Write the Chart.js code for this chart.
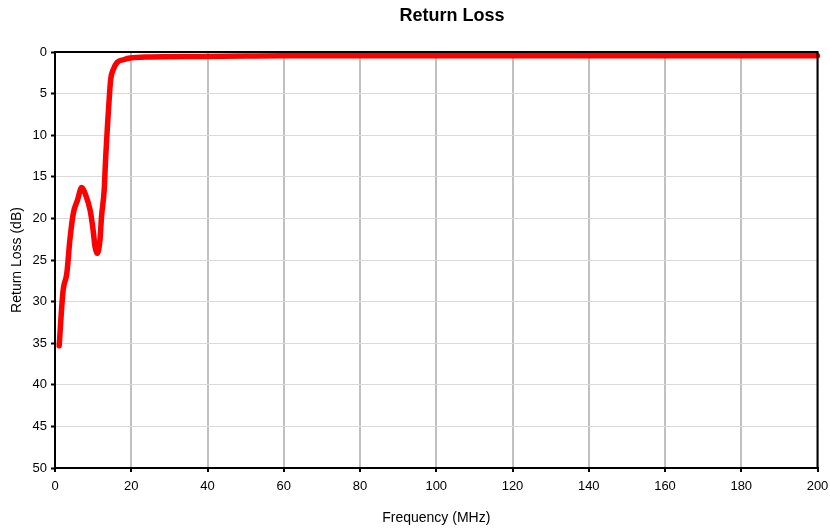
<!DOCTYPE html>
<html>
<head>
<meta charset="utf-8">
<script src="https://cdn.jsdelivr.net/npm/chart.js@4/dist/chart.umd.min.js"></script>
<style>
  html, body { margin: 0; padding: 0; background: #fff; }
  #wrap { width: 830px; height: 529px; }
</style>
</head>
<body>
<div id="wrap"><canvas id="c" width="830" height="529"></canvas></div>
<script>
const chartTitle = "Return Loss";
const xAxisTitle = "Frequency (MHz)";
const yAxisTitle = "Return Loss (dB)";
const frequencyMHz = [1.1, 1.9, 2.2, 3.1, 3.9, 4.8, 5.9, 7.0, 7.9, 9.2, 10.0, 10.5, 11.1, 11.8, 12.2, 12.9, 13.3, 13.8, 14.2, 14.6, 15.3, 16.3, 17.9, 19.7, 25, 38, 50, 60, 80, 100, 120, 140, 160, 180, 200];
const returnLossDb = [35.3, 29.8, 28.4, 26.6, 22.6, 19.4, 17.8, 16.3, 17.0, 19.0, 21.4, 23.4, 24.2, 22.6, 19.8, 16.6, 12.6, 8.6, 5.75, 3.3, 2.1, 1.25, 0.93, 0.73, 0.6, 0.53, 0.48, 0.45, 0.45, 0.44, 0.44, 0.44, 0.44, 0.44, 0.44];

const points = frequencyMHz.map((f, i) => ({ x: f, y: returnLossDb[i] }));
const FONT = '"Liberation Sans", Arial, sans-serif';

const framePlugin = {
  id: 'frame',
  afterDraw(chart) {
    const { ctx, chartArea: a } = chart;
    ctx.save();
    ctx.strokeStyle = '#000';
    ctx.lineWidth = 2;
    ctx.strokeRect(a.left, a.top, a.right - a.left, a.bottom - a.top);
    ctx.fillStyle = '#000';
    ctx.font = 'bold 18px ' + FONT;
    ctx.textAlign = 'center';
    ctx.textBaseline = 'middle';
    ctx.fillText(chartTitle, 452, 16);
    ctx.restore();
  }
};

new Chart(document.getElementById('c'), {
  type: 'line',
  data: {
    datasets: [{
      data: points,
      borderColor: '#ff0000',
      borderWidth: 5.5,
      borderCapStyle: 'round',
      borderJoinStyle: 'round',
      pointRadius: 0,
      fill: false,
      cubicInterpolationMode: 'monotone',
      clip: false
    }]
  },
  options: {
    responsive: false,
    animation: false,
    devicePixelRatio: 1,
    layout: { padding: { top: 52, right: 12.5, left: 0, bottom: 0 } },
    plugins: { legend: { display: false }, tooltip: { enabled: false }, title: { display: false } },
    scales: {
      x: {
        type: 'linear',
        min: 0, max: 200,
        ticks: { stepSize: 20, color: '#000', font: { family: FONT, size: 13 }, padding: 7, maxRotation: 0 },
        grid: { color: '#c0c0c0', lineWidth: 2, tickColor: '#000', tickLength: 4, tickWidth: 2 },
        border: { color: '#000', width: 2 },
        title: { display: true, text: xAxisTitle, color: '#000', font: { family: FONT, size: 14 }, padding: { top: 6, bottom: 2 } },
        afterFit(s) { s.height = 61; s.paddingRight = 0; s.paddingLeft = 0; }
      },
      y: {
        type: 'linear',
        reverse: true,
        min: 0, max: 50,
        ticks: { stepSize: 5, color: '#000', font: { family: FONT, size: 13 }, padding: 4 },
        grid: { color: '#d9d9d9', lineWidth: 1, tickColor: '#000', tickLength: 4, tickWidth: 2 },
        border: { color: '#000', width: 2 },
        title: { display: true, text: yAxisTitle, color: '#000', font: { family: FONT, size: 14 }, padding: { top: 9, bottom: 0 } },
        afterFit(s) { s.width = 55; s.paddingTop = 0; s.paddingBottom = 0; }
      }
    }
  },
  plugins: [framePlugin]
});
</script>
</body>
</html>
